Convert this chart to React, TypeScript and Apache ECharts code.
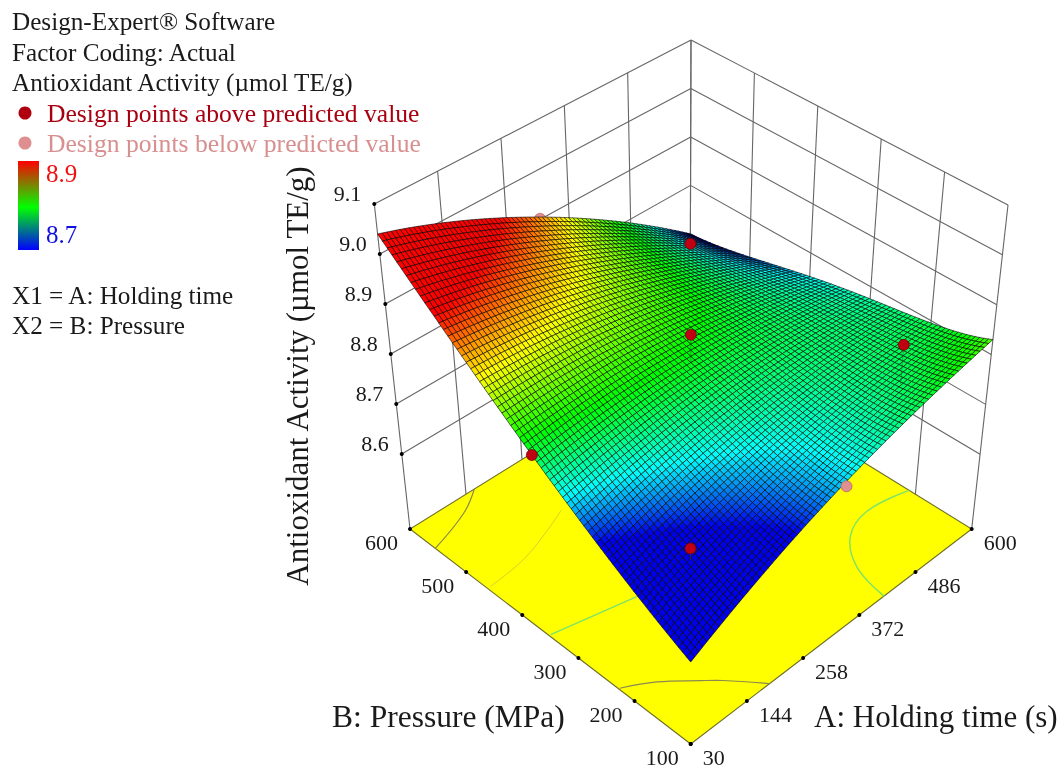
import React, { useEffect, useRef } from "react";
import * as echarts from "echarts";

// ---- data ----
const holdingTimeTicks = [30, 144, 258, 372, 486, 600];
const pressureTicks = [100, 200, 300, 400, 500, 600];
const activityTicks = [8.6, 8.7, 8.8, 8.9, 9.0, 9.1];
const activityFloor = 8.45;

// surface heights read at these nodes (rows: pressure, columns: holding time)
const surfaceTimeNodes = [30, 172.5, 315, 457.5, 600];
const surfacePressureNodes = [100, 225, 350, 475, 600];
const surfaceRow100 = [8.61, 8.681, 8.742, 8.791, 8.83];
const surfaceRow225 = [8.686, 8.731, 8.764, 8.783, 8.79];
const surfaceRow350 = [8.783, 8.8, 8.804, 8.792, 8.765];
const surfaceRow475 = [8.901, 8.883, 8.849, 8.798, 8.73];
const surfaceRow600 = [9.04, 8.983, 8.907, 8.813, 8.7];
const surfaceRows = [surfaceRow100, surfaceRow225, surfaceRow350, surfaceRow475, surfaceRow600];

// [holding time, pressure, activity]
const pointsAbove = [
  [30, 365, 8.796],
  [315, 350, 8.86],
  [560, 565, 8.729],
  [115, 175, 8.71],
  [486, 150, 8.868],
];
const pointsBelowFront = [[329, 100, 8.737]];
const pointsBelowBehind = [[319, 600, 8.901]];

// floor contours, [holding time, pressure]
const contourRedLeft = [[161, 600], [113, 577], [30, 555]];
const contourFaint = [[36, 462], [119, 470], [224, 500]];
const contourGreenMid = [[33, 352], [177, 325]];
const contourLow = [[32, 228], [79, 203], [125, 166], [148, 146], [190, 100]];
const contourGreenRight = [[600, 211], [528, 224], [476, 207], [438, 162], [422, 100]];

const colorValues = [8.71, 8.755, 8.81, 8.875, 8.945];
const colorStops = [[0, 0, 235], [0, 255, 255], [0, 255, 0], [255, 255, 0], [255, 0, 0]];

// ---- projection of the box on the page ----
const floorQuad = [[690.7, 744], [971.7, 529], [410, 529], [690, 355]];
const topQuad = [[690.7, 411], [1008, 205], [374.3, 204], [691, 40]];
const T_MIN = 30, T_MAX = 600, P_MIN = 100, P_MAX = 600, Z_TOP = 9.1;
const MESH_PER_PATCH = 18;
const SERIF = '"Liberation Serif", "Times New Roman", serif';

const bilinear = (q: number[][], a: number, b: number, k: number) =>
  q[0][k] * (1 - a) * (1 - b) + q[1][k] * a * (1 - b) + q[2][k] * (1 - a) * b + q[3][k] * a * b;

const place = (A: number, B: number, Z: number) => {
  const a = (A - T_MIN) / (T_MAX - T_MIN);
  const b = (B - P_MIN) / (P_MAX - P_MIN);
  const w = (Z - activityFloor) / (Z_TOP - activityFloor);
  const fx = bilinear(floorQuad, a, b, 0), fy = bilinear(floorQuad, a, b, 1);
  const tx = bilinear(topQuad, a, b, 0), ty = bilinear(topQuad, a, b, 1);
  return [fx + (tx - fx) * w, fy + (ty - fy) * w];
};

const lagrange = (nodes: number[], v: number) =>
  nodes.map((n, i) =>
    nodes.reduce((p, m, j) => (j === i ? p : (p * (v - m)) / (n - m)), 1)
  );

const surfaceAt = (A: number, B: number) => {
  const la = lagrange(surfaceTimeNodes, A);
  const lb = lagrange(surfacePressureNodes, B);
  let s = 0;
  lb.forEach((wb, r) => la.forEach((wa, c) => { s += wa * wb * surfaceRows[r][c]; }));
  return s;
};

const colorFor = (z: number) => {
  if (z <= colorValues[0]) return `rgb(${colorStops[0].join(",")})`;
  for (let i = 1; i < colorValues.length; i++) {
    if (z <= colorValues[i]) {
      const t = (z - colorValues[i - 1]) / (colorValues[i] - colorValues[i - 1]);
      const c = colorStops[i].map((v, k) => Math.round(colorStops[i - 1][k] + (v - colorStops[i - 1][k]) * t));
      return `rgb(${c.join(",")})`;
    }
  }
  return `rgb(${colorStops[colorStops.length - 1].join(",")})`;
};

const patchData: number[][] = [];
for (let r = surfacePressureNodes.length - 2; r >= 0; r--) {
  for (let c = surfaceTimeNodes.length - 2; c >= 0; c--) patchData.push([0, 0, r, c]);
}

const line = (p: number[], q: number[], stroke: string, lineWidth: number) => ({
  type: "line",
  shape: { x1: p[0], y1: p[1], x2: q[0], y2: q[1] },
  style: { stroke, lineWidth },
  silent: true,
});
const dot = (p: number[], r: number, fill: string, stroke?: string) => ({
  type: "circle",
  shape: { cx: p[0], cy: p[1], r },
  style: { fill, stroke: stroke || null, lineWidth: stroke ? 0.7 : 0 },
  silent: true,
});
const label = (p: number[], text: string, align: string, fontSize: number) => ({
  type: "text",
  x: p[0],
  y: p[1],
  style: { text, fill: "#1a1a1a", fontSize, fontFamily: SERIF, align, verticalAlign: "middle" },
  silent: true,
});

export default function App() {
  const ref = useRef<HTMLDivElement>(null);
  useEffect(() => {
    const chart = echarts.init(ref.current!, undefined, { renderer: "svg" });
    const at = (api: any, A: number, B: number, Z: number) => api.coord(place(A, B, Z));

    const frame = (_: any, api: any) => {
      const children: any[] = [];
      const GREY = "#666";
      const floor = [
        at(api, T_MIN, P_MIN, activityFloor),
        at(api, T_MAX, P_MIN, activityFloor),
        at(api, T_MAX, P_MAX, activityFloor),
        at(api, T_MIN, P_MAX, activityFloor),
      ];
      holdingTimeTicks.forEach((t) =>
        children.push(line(at(api, t, P_MAX, activityFloor), at(api, t, P_MAX, Z_TOP), GREY, 1.1))
      );
      pressureTicks.forEach((p) =>
        children.push(line(at(api, T_MAX, p, activityFloor), at(api, T_MAX, p, Z_TOP), GREY, 1.1))
      );
      activityTicks.forEach((z) => {
        children.push(line(at(api, T_MIN, P_MAX, z), at(api, T_MAX, P_MAX, z), GREY, 1.1));
        children.push(line(at(api, T_MAX, P_MAX, z), at(api, T_MAX, P_MIN, z), GREY, 1.1));
      });
      children.push({
        type: "polygon",
        shape: { points: floor },
        style: { fill: "#ffff00", stroke: "#6f6f2a", lineWidth: 1.1 },
        silent: true,
      });
      const contour = (pts: number[][], stroke: string, width: number) =>
        children.push({
          type: "polyline",
          shape: { points: pts.map((p) => at(api, p[0], p[1], activityFloor)), smooth: 0.4 },
          style: { stroke, lineWidth: width, fill: null },
          silent: true,
        });
      contour(contourRedLeft, "#8a8a50", 1.2);
      contour(contourFaint, "#d6cf30", 1);
      contour(contourGreenMid, "#7be36a", 1.4);
      contour(contourLow, "#8a8a50", 1.2);
      contour(contourGreenRight, "#7be36a", 1.4);
      holdingTimeTicks.forEach((t) => {
        const p = at(api, t, P_MIN, activityFloor);
        children.push(dot(p, 2, "#000"));
        children.push(label([p[0] + 12, p[1] + 13], String(t), "left", 22));
      });
      pressureTicks.forEach((v) => {
        const p = at(api, T_MIN, v, activityFloor);
        children.push(dot(p, 2, "#000"));
        children.push(label([p[0] - 12, p[1] + 13], String(v), "right", 22));
      });
      activityTicks.forEach((z) => {
        const p = at(api, T_MIN, P_MAX, z);
        children.push(dot(p, 2, "#000"));
        children.push(label([p[0] - 13, p[1] - 11], z.toFixed(1), "right", 22));
      });
      pointsBelowBehind.forEach((d) => children.push(dot(at(api, d[0], d[1], d[2]), 5.5, "#df8f8f", "#b06060")));
      return { type: "group", children };
    };

    const surface = (params: any, api: any) => {
      const r = api.value(2);
      const c = api.value(3);
      const t0 = surfaceTimeNodes[c], t1 = surfaceTimeNodes[c + 1];
      const p0 = surfacePressureNodes[r], p1 = surfacePressureNodes[r + 1];
      const dt = (t1 - t0) / MESH_PER_PATCH, dp = (p1 - p0) / MESH_PER_PATCH;
      const children: any[] = [];
      for (let j = MESH_PER_PATCH - 1; j >= 0; j--) {
        for (let i = MESH_PER_PATCH - 1; i >= 0; i--) {
          const A0 = t0 + i * dt, A1 = A0 + dt, B0 = p0 + j * dp, B1 = B0 + dp;
          const z00 = surfaceAt(A0, B0), z10 = surfaceAt(A1, B0), z01 = surfaceAt(A0, B1), z11 = surfaceAt(A1, B1);
          children.push({
            type: "polygon",
            shape: { points: [at(api, A0, B0, z00), at(api, A1, B0, z10), at(api, A1, B1, z11), at(api, A0, B1, z01)] },
            style: { fill: colorFor((z00 + z10 + z01 + z11) / 4), stroke: "#000", lineWidth: 0.6 },
            silent: true,
          });
        }
      }
      return { type: "group", children };
    };

    const marks = (_: any, api: any) => {
      const children: any[] = [];
      pointsAbove.forEach((d) => {
        children.push(line(at(api, d[0], d[1], d[2]), at(api, d[0], d[1], surfaceAt(d[0], d[1])), "#225522", 0.5));
        children.push(dot(at(api, d[0], d[1], d[2]), 5.5, "#c00012", "#6e0000"));
      });
      pointsBelowFront.forEach((d) => children.push(dot(at(api, d[0], d[1], d[2]), 5.5, "#df8f8f", "#b06060")));
      return { type: "group", children };
    };

    const text = (x: number, y: number, t: string, fill = "#1a1a1a", fontSize = 25.2) => ({
      type: "text",
      x,
      y,
      silent: true,
      style: { text: t, fill, fontSize, fontFamily: SERIF, align: "left", verticalAlign: "middle" },
    });

    const yTitle = "Antioxidant Activity (µmol TE/g)";
    chart.setOption({
      animation: false,
      grid: { left: 0, top: 0, right: 0, bottom: 0 },
      xAxis: { type: "value", min: 0, max: 1064, show: false },
      yAxis: { type: "value", min: 0, max: 769, inverse: true, show: false },
      series: [
        { type: "custom", coordinateSystem: "cartesian2d", renderItem: frame, data: [[0, 0]], encode: { x: 0, y: 1 }, clip: false, silent: true },
        { type: "custom", coordinateSystem: "cartesian2d", renderItem: surface, data: patchData, encode: { x: 0, y: 1 }, clip: false, silent: true, progressive: 0 },
        { type: "custom", coordinateSystem: "cartesian2d", renderItem: marks, data: [[0, 0]], encode: { x: 0, y: 1 }, clip: false, silent: true },
      ],
      graphic: [
        text(12, 21, "Design-Expert® Software"),
        text(12, 52, "Factor Coding: Actual"),
        text(12, 82, "Antioxidant Activity (µmol TE/g)"),
        { type: "circle", shape: { cx: 25, cy: 113, r: 6.5 }, style: { fill: "#b00010" }, silent: true },
        text(47, 113, "Design points above predicted value", "#a80010", 25.6),
        { type: "circle", shape: { cx: 25, cy: 143, r: 6.5 }, style: { fill: "#df8f8f" }, silent: true },
        text(47, 143, "Design points below predicted value", "#d88f8f", 25.6),
        {
          type: "rect",
          shape: { x: 18, y: 161, width: 21, height: 89 },
          silent: true,
          style: {
            fill: new echarts.graphic.LinearGradient(0, 0, 0, 1, [
              { offset: 0, color: "#ff0000" },
              { offset: 0.52, color: "#00ff00" },
              { offset: 1, color: "#0000ff" },
            ]),
          },
        },
        text(46, 173, "8.9", "#ee1111", 25),
        text(46, 234, "8.7", "#1111dd", 25),
        text(12, 295, "X1 = A: Holding time"),
        text(12, 325, "X2 = B: Pressure"),
        { ...text(297, 376, yTitle, "#1a1a1a", 31), rotation: Math.PI / 2, style: { ...text(0, 0, yTitle, "#1a1a1a", 31).style, align: "center" } },
        text(332, 716, "B: Pressure (MPa)", "#1a1a1a", 31.5),
        text(814, 716, "A: Holding time (s)", "#1a1a1a", 31),
      ],
    });
    return () => chart.dispose();
  }, []);
  return <div ref={ref} style={{ position: "fixed", left: 0, top: 0, width: 1064, height: 769, background: "#fff", filter: "blur(0.5px)" }} />;
}
